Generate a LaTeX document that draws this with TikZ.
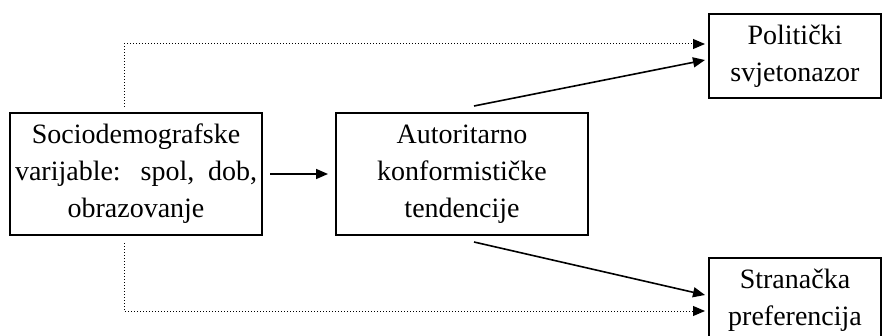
\documentclass[tikz,border=0pt]{standalone}
\usepackage{fontspec}
\setmainfont{Liberation Serif}
\usepackage{tikz}
\usetikzlibrary{arrows.meta}
\usetikzlibrary{positioning}

\begin{document}
\begin{tikzpicture}[x=0.5pt,y=-0.5pt,
  box/.style={draw,line width=1pt,align=center,inner sep=0pt,font=\fontsize{14}{18.5}\selectfont},
  solidarr/.style={line width=0.8pt,-{Triangle[length=6pt,width=5pt]}},
  dotarr/.style={line width=0.5pt,densely dotted,-{Triangle[length=6pt,width=5pt]}}]
  \useasboundingbox (0,0) rectangle (882,336);
  \node[box,minimum width=126pt,minimum height=61pt] (socio) at (136,174)
     {Sociodemografske\\\makebox[121pt][s]{varijable: spol, dob,}\\obrazovanje};
  \node[box,minimum width=126pt,minimum height=61pt] (auto) at (462,174)
     {Autoritarno\\konformističke\\tendencije};
  \node[box,minimum width=86pt,minimum height=42pt] (polit) at (795,56)
     {Politički\\svjetonazor};
  \node[box,minimum width=86pt,minimum height=42pt] (strank) at (795,300)
     {Stranačka\\preferencija};
  \coordinate (s1) at (124,107);
  \coordinate (s2) at (124,243);
  \coordinate (a1) at (474,106);
  \coordinate (a2) at (474,242);
  \coordinate (p1) at (705,44);
  \coordinate (p2) at (705,60);
  \coordinate (r1) at (705,295);
  \coordinate (r2) at (705,311);
  \draw[solidarr,shorten <=3.5pt,shorten >=3.5pt](socio.east)--(auto.west);
  \draw[solidarr](a1)--(p2);
  \draw[solidarr](a2)--(r1);
  \draw[dotarr](s1)|-(p1);
  \draw[dotarr](s2)|-(r2);
\end{tikzpicture}
\end{document}
